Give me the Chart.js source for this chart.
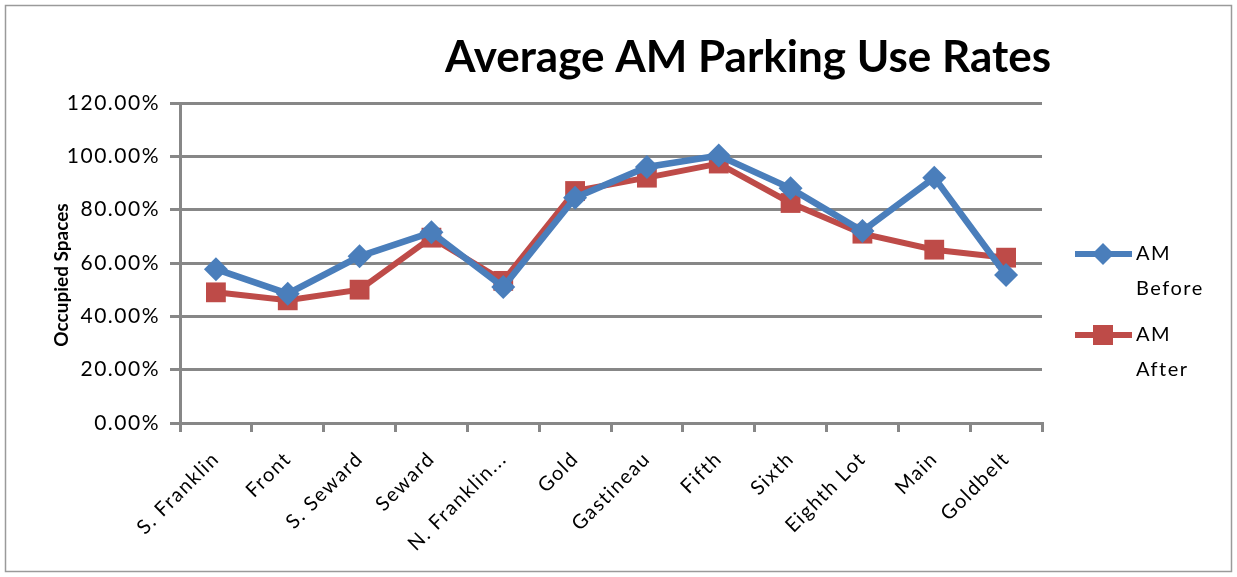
<!DOCTYPE html>
<html>
<head>
<meta charset="utf-8">
<script src="https://cdn.jsdelivr.net/npm/chart.js@4.4.0/dist/chart.umd.min.js"></script>
<style>
html,body{margin:0;padding:0;background:#fff;}
#wrap{position:relative;width:1237px;height:577px;}
</style>
</head>
<body>
<div id="wrap"><canvas id="c" width="1237" height="577"></canvas></div>
<script>
const categories = ["S. Franklin","Front","S. Seward","Seward","N. Franklin...","Gold","Gastineau","Fifth","Sixth","Eighth Lot","Main","Goldbelt"];
const amBefore = [57.7, 48.5, 62.5, 71.5, 51, 84.5, 96, 100.3, 88, 72, 92, 55.5];
const amAfter  = [49, 46, 50, 69.5, 53.3, 87, 92, 97.3, 82.5, 71, 65, 62];
const yTicks = [0, 20, 40, 60, 80, 100, 120];
const titleText = "Average AM Parking Use Rates";
const yTitle = "Occupied Spaces";
const seriesNames = [["AM","Before"],["AM","After"]];

const FONT = "Lato, 'Open Sans', sans-serif";
const GRID = "#878787";
const BLUE = "#4a7ebb";
const RED = "#be4b48";

const decor = {
  id: 'decor',
  beforeDraw(chart){
    const ctx = chart.ctx;
    ctx.save();
    ctx.fillStyle = '#fff';
    ctx.fillRect(0,0,chart.width,chart.height);
    ctx.strokeStyle = '#9a9a9a';
    ctx.lineWidth = 1.5;
    ctx.strokeRect(5.5,5.5,chart.width-11,chart.height-11);
    ctx.restore();
    ctx.letterSpacing = '1.5px';
  },
  afterDraw(chart){
    const ctx = chart.ctx;
    ctx.save();
    ctx.letterSpacing = '0px';
    // title
    ctx.fillStyle = '#000';
    ctx.font = "bold 44px " + FONT;
    ctx.textAlign = 'center';
    ctx.textBaseline = 'middle';
    ctx.fillText(titleText, 748, 58);
    // y title
    ctx.save();
    ctx.translate(62, 275);
    ctx.rotate(-Math.PI/2);
    ctx.font = "bold 19px " + FONT;
    ctx.fillText(yTitle, 0, 0);
    ctx.restore();
    // legend
    const ds = chart.data.datasets;
    const ys = [254, 335];
    ds.forEach((d,i)=>{
      const y = ys[i];
      ctx.strokeStyle = d.borderColor;
      ctx.lineWidth = 6;
      ctx.beginPath(); ctx.moveTo(1075,y); ctx.lineTo(1132,y); ctx.stroke();
      ctx.fillStyle = d.pointBackgroundColor;
      ctx.beginPath();
      if (d.pointStyle === 'rectRot') {
        const r = 11; ctx.moveTo(1103,y-r); ctx.lineTo(1103+r,y); ctx.lineTo(1103,y+r); ctx.lineTo(1103-r,y); ctx.closePath();
      } else {
        ctx.rect(1093,y-10,20,20);
      }
      ctx.fill();
      ctx.fillStyle = '#000';
      ctx.letterSpacing = '1.5px';
      ctx.font = "20px " + FONT;
      ctx.textAlign = 'left';
      ctx.textBaseline = 'middle';
      ctx.fillText(seriesNames[i][0], 1136, y);
      ctx.fillText(seriesNames[i][1], 1136, y+35);
      ctx.letterSpacing = '0px';
    });
    ctx.restore();
  }
};

new Chart(document.getElementById('c'), {
  type: 'line',
  data: {
    labels: categories,
    datasets: [
      {label:'AM Before', data: amBefore, borderColor: BLUE, backgroundColor: BLUE, pointBackgroundColor: BLUE, pointBorderColor: BLUE,
       borderWidth: 6.5, pointStyle:'rectRot', pointRadius: 12, pointBorderWidth: 0, tension: 0},
      {label:'AM After', data: amAfter, borderColor: RED, backgroundColor: RED, pointBackgroundColor: RED, pointBorderColor: RED,
       borderWidth: 6, pointStyle:'rect', pointRadius: 14, pointBorderWidth: 0, tension: 0}
    ]
  },
  options: {
    responsive: false,
    animation: false,
    devicePixelRatio: 1,
    layout: { padding: { left: 60, right: 195, top: 103, bottom: 24 } },
    plugins: { legend: { display: false }, title: { display: false }, tooltip: { enabled: false } },
    scales: {
      x: {
        offset: true,
        grid: { offset: true, drawOnChartArea: false, drawTicks: true, tickLength: 9, color: GRID, lineWidth: 3 },
        border: { display: true, color: GRID, width: 3 },
        ticks: { autoSkip: false, minRotation: 45, maxRotation: 45, color: '#000', font: { family: FONT, size: 20 }, padding: 15 },
        afterFit(s){ s.height = 130; }
      },
      y: {
        min: 0, max: 120,
        afterBuildTicks(s){ s.ticks = yTicks.map(v=>({value:v})); },
        grid: { drawTicks: true, tickLength: 10, color: GRID, lineWidth: 3 },
        border: { display: true, color: GRID, width: 3 },
        ticks: { color: '#000', font: { family: FONT, size: 21 }, padding: 10, callback: v => v.toFixed(2) + '%' },
        afterFit(s){ s.width = 120; }
      }
    }
  },
  plugins: [decor]
});
</script>
</body>
</html>
